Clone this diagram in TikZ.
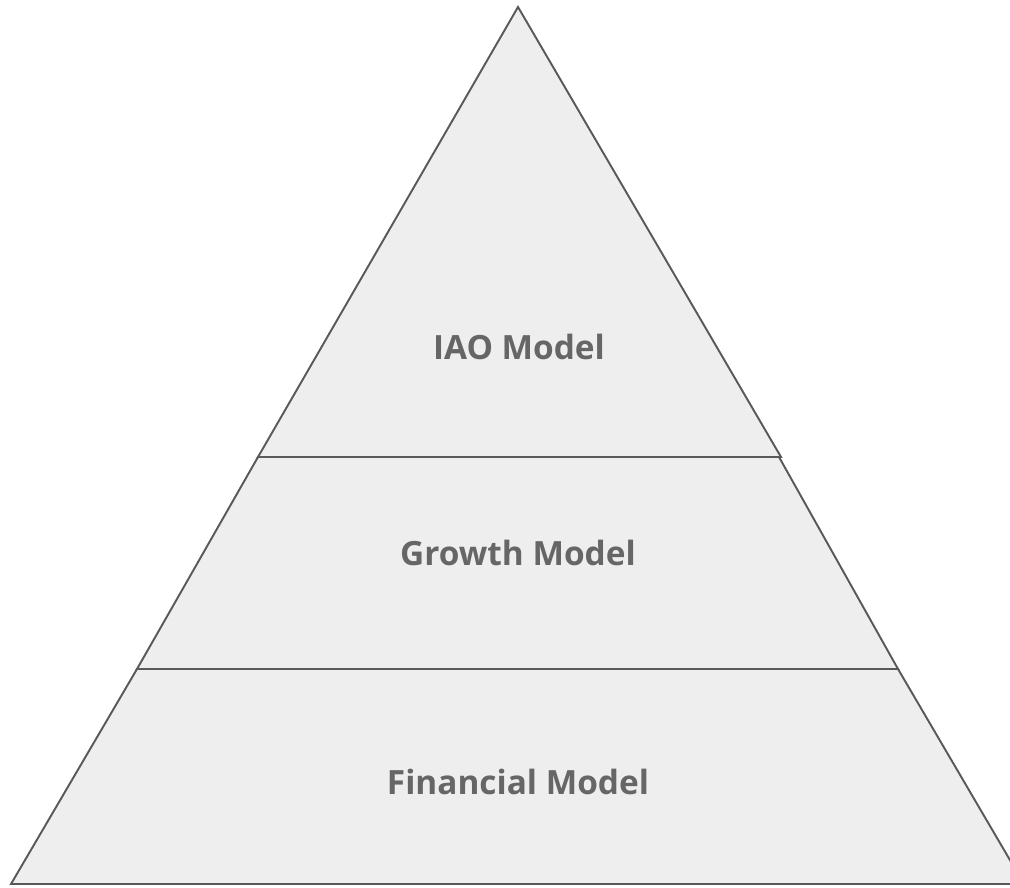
\documentclass[tikz,border=0pt]{standalone}
\usepackage{fontspec}
\setmainfont{Open Sans}
\definecolor{layerfill}{HTML}{EEEEEE}
\definecolor{layerline}{HTML}{595959}
\definecolor{labelgray}{HTML}{666666}
\tikzset{
  layer/.style={fill=layerfill, draw=layerline, line width=1.1pt, line join=miter},
  label/.style={text=labelgray, font=\bfseries\fontsize{19}{22}\selectfont, anchor=base}
}
\begin{document}
\begin{tikzpicture}[x=0.02cm,y=-0.02cm]
        \useasboundingbox (0,0) rectangle (1010,888);
        \clip (0,0) rectangle (1010,888);
        \draw[layer] (11,884) -- (137,669) -- (898,669) -- (1024,884) -- cycle;
        \draw[layer] (137,669) -- (258,457) -- (779,457) -- (898,669) -- cycle;
        \draw[layer] (258,457) -- (518,7) -- (781,457) -- cycle;
        \node[label] at (519,359) (iao) {IAO Model};
        \node[label] at (518,565) (growth) {Growth Model};
        \node[label] at (518,794) (financial) {Financial Model};
      \end{tikzpicture}
\end{document}
